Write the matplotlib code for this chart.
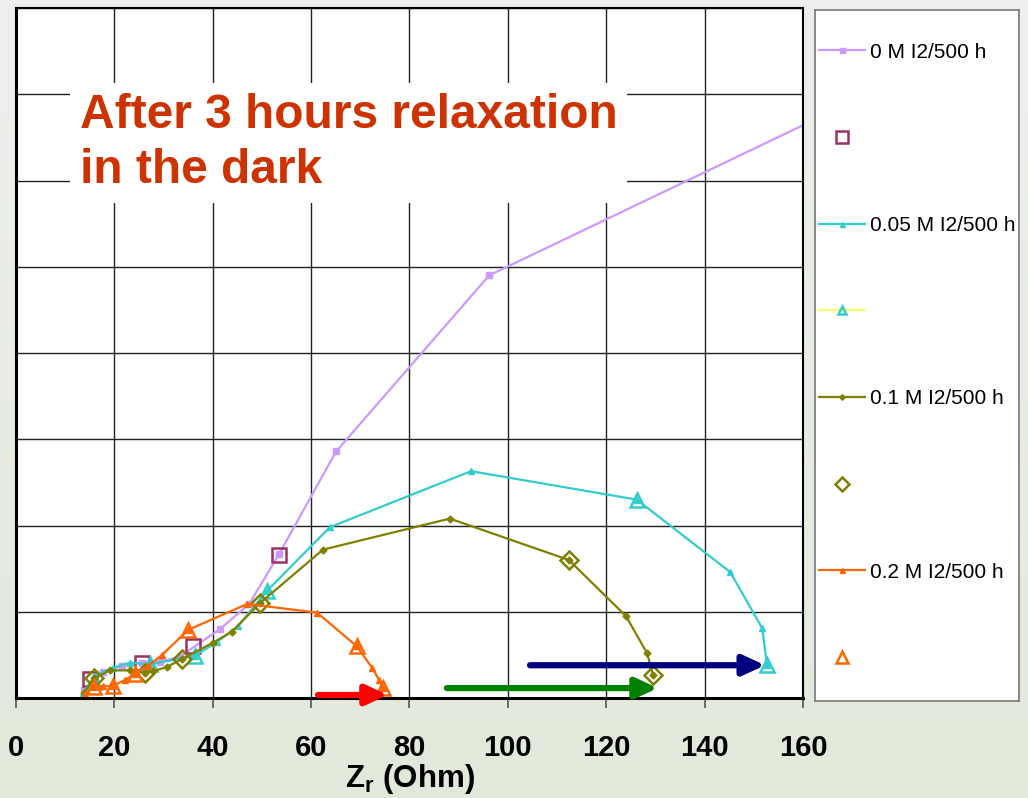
import numpy as np
import matplotlib.pyplot as plt
from matplotlib.lines import Line2D

plt.rcParams['font.family'] = ['Liberation Sans', 'DejaVu Sans']
plt.rcParams['mathtext.fontset'] = 'custom'
plt.rcParams['mathtext.rm'] = 'Liberation Sans:bold'

# Nyquist data, Z real (Ohm) vs -Z imaginary (grid units of 10)
zr_0 = [13.8, 16.1, 17.7, 21.5, 25.6, 29.3, 33.3, 41.5, 47.4, 53.5, 65.1, 96.2, 175.0]
zi_0 = [0.9, 2.3, 3.0, 3.7, 4.1, 4.2, 4.8, 8.0, 10.9, 16.7, 28.6, 49.0, 70.5]
zr_0_open = [15.0, 25.6, 36.0, 53.5]
zi_0_open = [2.2, 4.1, 6.0, 16.6]

zr_005 = [13.6, 16.1, 19.7, 23.2, 27.2, 36.4, 40.9, 45.1, 51.0, 63.8, 92.5, 126.2, 145.2, 151.7, 152.7]
zi_005 = [0.6, 2.6, 3.5, 4.1, 3.9, 4.9, 6.5, 8.3, 12.4, 19.8, 26.3, 23.0, 14.6, 8.1, 3.8]
zr_005_open = [15.9, 27.2, 36.4, 51.0, 126.2, 152.7]
zi_005_open = [1.8, 3.9, 4.9, 12.4, 23.0, 3.8]

zr_01 = [13.8, 15.9, 19.1, 23.2, 26.2, 27.9, 30.7, 33.7, 40.0, 43.9, 49.6, 62.4, 88.2, 112.4, 124.0, 128.3, 129.5]
zi_01 = [0.6, 2.3, 3.2, 3.2, 2.9, 3.1, 3.6, 4.5, 6.4, 7.7, 11.0, 17.2, 20.8, 16.0, 9.5, 5.2, 2.7]
zr_01_open = [15.9, 26.2, 33.7, 49.6, 112.4, 129.5]
zi_01_open = [2.3, 2.9, 4.5, 11.0, 16.0, 2.7]

zr_02 = [14.0, 15.9, 17.7, 19.7, 22.2, 24.2, 26.8, 29.7, 35.0, 47.0, 61.2, 69.3, 72.4, 73.8, 74.6]
zi_02 = [0.5, 1.3, 1.4, 1.4, 2.1, 2.8, 3.7, 5.0, 7.9, 10.9, 9.9, 6.0, 3.5, 2.1, 1.2]
zr_02_open = [15.9, 19.7, 24.2, 35.0, 69.3, 74.6]
zi_02_open = [1.3, 1.4, 2.8, 7.9, 6.0, 1.2]

labels = ['0 M I2/500 h', '', '0.05 M I2/500 h', '', '0.1 M I2/500 h', '', '0.2 M I2/500 h', '']

arrow_start = [61.4, 87.6, 104.5]
arrow_end = [75.6, 130.5, 152.3]
arrow_y = [0.35, 1.15, 3.8]
arrow_colors = ['#ff0000', '#008000', '#000080']

xticks = [0, 20, 40, 60, 80, 100, 120, 140, 160]

fig = plt.figure(figsize=(10.28, 7.98), dpi=100)
fig.patch.set_facecolor('#e7ebe3')

# soft background behind everything
bg = fig.add_axes([0, 0, 1, 1], zorder=-10)
grad = np.linspace(0, 1, 256).reshape(-1, 1)
bg.imshow(grad, aspect='auto', cmap=plt.matplotlib.colors.LinearSegmentedColormap.from_list(
    'bg', ['#eef0ee', '#e2e9da']), extent=[0, 1, 0, 1])
bg.set_axis_off()

ax = fig.add_axes([16/1028, 1 - 698/798, 787/1028, 690/798])
ax.set_facecolor('white')

lw = 1.6
l0, = ax.plot(zr_0, zi_0, color='#cc99ff', lw=lw, marker='s', ms=4.5)
o0, = ax.plot(zr_0_open, zi_0_open, ls='none', marker='s', ms=10, mfc='none', mec='#993366', mew=1.8)
l1, = ax.plot(zr_005, zi_005, color='#33cccc', lw=lw, marker='^', ms=4.5)
o1, = ax.plot(zr_005_open, zi_005_open, ls='none', marker='^', ms=10, mfc='none', mec='#33cccc', mew=1.8)
l2, = ax.plot(zr_01, zi_01, color='#808000', lw=lw, marker='D', ms=3.5)
o2, = ax.plot(zr_01_open, zi_01_open, ls='none', marker='D', ms=9, mfc='none', mec='#808000', mew=1.8)
l3, = ax.plot(zr_02, zi_02, color='#ff6600', lw=lw, marker='^', ms=4.5)
o3, = ax.plot(zr_02_open, zi_02_open, ls='none', marker='^', ms=10, mfc='none', mec='#ff6600', mew=1.8)

for xs, xe, y, c in zip(arrow_start, arrow_end, arrow_y, arrow_colors):
    ax.annotate('', xy=(xe, y), xytext=(xs, y),
                arrowprops=dict(arrowstyle='-|>,head_length=1.3,head_width=0.6',
                                lw=4.5, color=c, shrinkA=0, shrinkB=0), zorder=5)

ax.set_xlim(0, 160)
ax.set_ylim(0, 80)
ax.set_xticks(xticks)
ax.set_yticks(np.arange(0, 81, 10))
ax.grid(True, color='#222222', lw=1.0)
ax.set_axisbelow(True)
ax.tick_params(axis='y', left=False, labelleft=False)
ax.tick_params(axis='x', direction='out', length=7, width=1.2, color='#555555', pad=19)
for lab in ax.get_xticklabels():
    lab.set_fontweight('bold')
    lab.set_fontsize(21)
for side in ['left', 'bottom']:
    ax.spines[side].set_linewidth(2.2)
for side in ['top', 'right']:
    ax.spines[side].set_linewidth(1.5)
ax.set_xlabel(r'Z$_\mathrm{r}$ (Ohm)', fontsize=22.5, fontweight='bold', labelpad=0)

ax.text(13.0, 70.2, 'After 3 hours relaxation\nin the dark', fontsize=34.5,
        fontweight='bold', color='#cc3300', va='top', ha='left', linespacing=1.31,
        bbox=dict(facecolor='white', edgecolor='none', pad=7))

# legend panel
lax = fig.add_axes([815/1028, 1 - 701/798, 204/1028, 691/798])
lax.set_xticks([])
lax.set_yticks([])
lax.set_facecolor('white')
for s in lax.spines.values():
    s.set_color('#777777')
    s.set_linewidth(1.2)
h1b = Line2D([], [], color='#ffff66', lw=lw, marker='^', ms=8, mfc='none', mec='#33cccc', mew=1.8)
handles = [l0, o0, l1, h1b, l2, o2, l3, o3]
lax.legend(handles, labels, loc='center left', frameon=False, fontsize=15,
           labelspacing=3.25, handlelength=2.2, handletextpad=0.25, borderaxespad=0.1,
           borderpad=0.1, markerscale=0.8)

fig.savefig('out.png', dpi=100, facecolor=fig.get_facecolor())
